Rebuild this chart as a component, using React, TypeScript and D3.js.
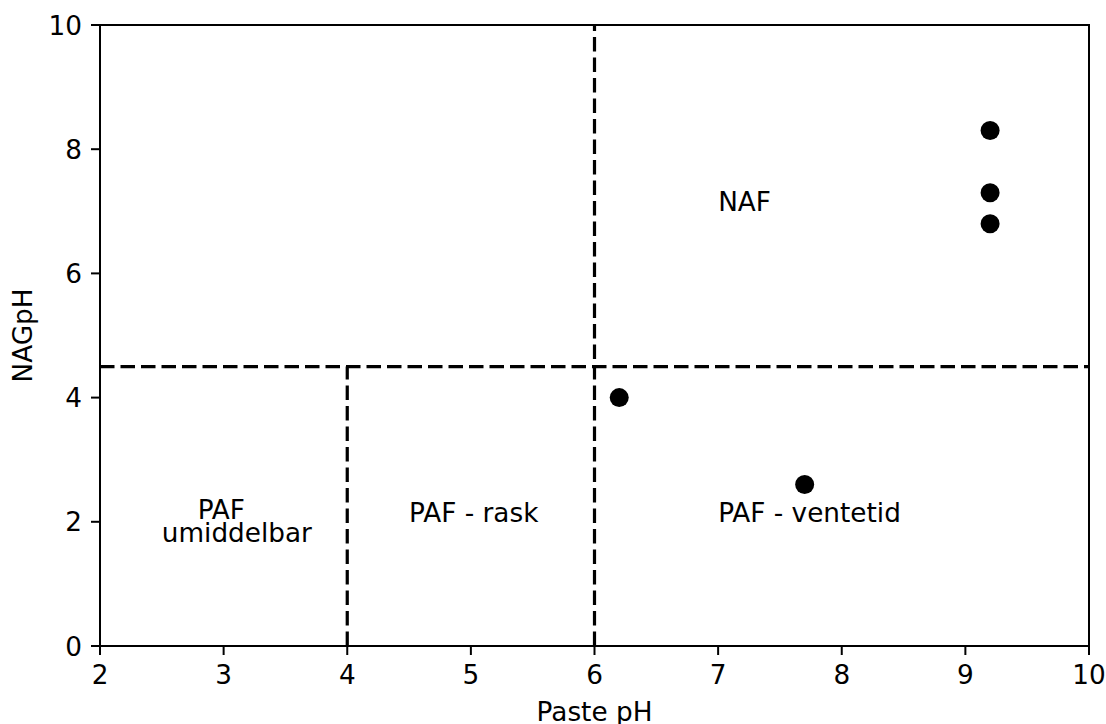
import React from 'react';
import * as d3 from 'd3';

// sample points (paste pH, NAGpH)
const pastePH = [9.2, 9.2, 9.2, 6.2, 7.7];
const nagPH = [8.3, 7.3, 6.8, 4.0, 2.6];

const xTicks = [2, 3, 4, 5, 6, 7, 8, 9, 10];
const yTicks = [0, 2, 4, 6, 8, 10];

// classification boundaries
const hLines = [{ y: 4.5, x0: 2, x1: 10 }];
const vLines = [
    { x: 6, y0: 0, y1: 10 },
    { x: 4, y0: 0, y1: 4.5 },
];

const zoneLabels = [
    { text: 'NAF', x: 7, y: 7 },
    { text: 'PAF - ventetid', x: 7, y: 2 },
    { text: 'PAF - rask', x: 4.5, y: 2 },
    { text: 'PAF', x: 2.79, y: 2.05 },
    { text: 'umiddelbar', x: 2.5, y: 1.67 },
];

const W = 1106;
const H = 724;
const FONT = "'DejaVu Sans', sans-serif";
const FS = 26.3;

const App = () => {
    const x = d3.scaleLinear().domain([2, 10]).range([100, 1089]);
    const y = d3.scaleLinear().domain([0, 10]).range([646, 25]);
    const [x0, x1] = x.range();
    const [y0, y1] = y.range();

    const dash = '14.5,6';

    return (
        <svg
            width={W}
            height={H}
            style={{ position: 'absolute', left: 0, top: 0, background: '#fff' }}
            fontFamily={FONT}
        >
            {/* boundaries */}
            {hLines.map((l, i) => (
                <line key={'h' + i} x1={x(l.x0)} x2={x(l.x1)} y1={y(l.y)} y2={y(l.y)}
                    stroke="#000" strokeWidth={3.2} strokeDasharray={dash} />
            ))}
            {vLines.map((l, i) => (
                <line key={'v' + i} x1={x(l.x)} x2={x(l.x)} y1={y(l.y0)} y2={y(l.y1)}
                    stroke="#000" strokeWidth={3.2} strokeDasharray={dash} />
            ))}

            {/* points */}
            {pastePH.map((v, i) => (
                <circle key={i} cx={x(v)} cy={y(nagPH[i])} r={9.5} fill="#000" />
            ))}

            {/* zone labels */}
            {zoneLabels.map((d, i) => (
                <text key={i} x={x(d.x)} y={y(d.y)} fontSize={FS} fill="#000">{d.text}</text>
            ))}

            {/* frame */}
            <rect x={x0} y={y1} width={x1 - x0} height={y0 - y1} fill="none" stroke="#000" strokeWidth={2} />

            {/* x axis */}
            {xTicks.map((t) => (
                <g key={'xt' + t}>
                    <line x1={x(t)} x2={x(t)} y1={y0} y2={y0 + 9} stroke="#000" strokeWidth={2} />
                    <text x={x(t)} y={684} textAnchor="middle" fontSize={FS}>{t}</text>
                </g>
            ))}
            <text x={(x0 + x1) / 2} y={721} textAnchor="middle" fontSize={FS}>Paste pH</text>

            {/* y axis */}
            {yTicks.map((t) => (
                <g key={'yt' + t}>
                    <line x1={x0 - 9} x2={x0} y1={y(t)} y2={y(t)} stroke="#000" strokeWidth={2} />
                    <text x={82} y={y(t) + 9.5} textAnchor="end" fontSize={FS}>{t}</text>
                </g>
            ))}
            <text
                transform={`translate(32, ${(y0 + y1) / 2}) rotate(-90)`}
                textAnchor="middle"
                fontSize={FS}
            >
                NAGpH
            </text>
        </svg>
    );
};

export default App;
